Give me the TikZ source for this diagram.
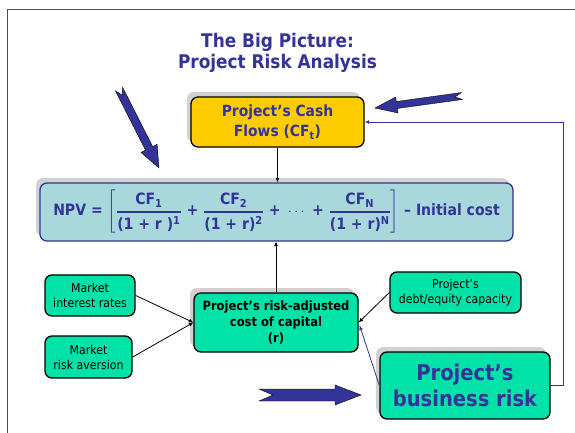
\documentclass[tikz,border=0pt]{standalone}
\usepackage{amsmath}
\usepackage{fontspec}
\setmainfont{DejaVu Sans Condensed}
\usetikzlibrary{calc,arrows.meta,shadows}

\definecolor{slideblue}{RGB}{51,51,153}
\definecolor{cashyellow}{HTML}{FFCC00}
\definecolor{riskgreen}{RGB}{0,226,168}
\definecolor{npvblue}{HTML}{A9D8DC}

\tikzset{
  slidebox/.style={draw, line width=1.3pt, rounded corners=7pt, align=center, inner sep=2pt},
  boxshadow/.style={drop shadow={shadow xshift=-4pt, shadow yshift=5pt, fill=black!30, opacity=.6}},
  link/.style={line width=0.8pt, -{Latex[length=4.5pt,width=4pt]}},
  bluelink/.style={link, slideblue},
  bigarrow/.style={fill=slideblue, draw=black, line width=0.4pt},
}

% block arrow: tail, tip, shaft half width, head half width, head length, notch
\newcommand\blockarrow[6]{%
  \path #1 coordinate (bat) #2 coordinate (bah);
  \path ($(bah)!#5!(bat)$) coordinate (bab);
  \draw[bigarrow] ($(bat)!#3!90:(bah)$) -- ($(bab)!#3!-90:(bat)$) -- ($(bab)!#4!-90:(bat)$)
    -- (bah) -- ($(bab)!#4!90:(bat)$) -- ($(bab)!#3!90:(bat)$) -- ($(bat)!#3!-90:(bah)$)
    -- ($(bat)!#6!(bah)$) -- cycle;
}

\begin{document}
\begin{tikzpicture}[x=1pt,y=-1pt]
  \useasboundingbox (0,0) rectangle (575,433);
  \draw[black!70, line width=0.8pt] (7,433) -- (7,9) -- (575,9);

  \node[slideblue, align=center, font=\bfseries\fontsize{18.8}{21}\selectfont] (title) at (277.5,52.5)
    {The Big Picture:\\Project Risk Analysis};

  \node[slidebox, boxshadow, fill=cashyellow, text=slideblue, minimum width=173pt, minimum height=50pt,
    font=\bfseries\fontsize{15.4}{20}\selectfont] (cash) at (277.5,122)
    {Project’s Cash\\Flows (CF\textsubscript{t})};

  \node[slidebox, boxshadow, draw=slideblue, fill=npvblue, text=slideblue, minimum width=473pt, minimum height=58pt,
    font=\bfseries\fontsize{15.6}{18}\selectfont] (npv) at (276.5,212)
    {NPV = $\left[\genfrac{}{}{1.2pt}{0}{\mbox{CF\textsubscript{1}}}{\mbox{(1 + r )\textsuperscript{1}}}\mbox{ + }
      \genfrac{}{}{1.2pt}{0}{\mbox{CF\textsubscript{2}}}{\mbox{(1 + r)\textsuperscript{2}}}\mbox{ + }\cdots\mbox{ + }
      \genfrac{}{}{1.2pt}{0}{\mbox{CF\textsubscript{N}}}{\mbox{(1 + r)\textsuperscript{N}}}\right]$ – Initial cost};

  \node[slidebox, boxshadow, fill=riskgreen, minimum width=164pt, minimum height=59pt,
    font=\bfseries\fontsize{12.8}{16}\selectfont] (cost) at (276,322.5)
    {Project’s risk-adjusted\\cost of capital\\(r)};

  \node[slidebox, fill=riskgreen, minimum width=90pt, minimum height=41pt,
    font=\fontsize{12.2}{15}\selectfont] (rates) at (90,295.5) {Market\\interest rates};
  \node[slidebox, fill=riskgreen, minimum width=87pt, minimum height=42pt,
    font=\fontsize{12.2}{15}\selectfont] (aversion) at (88.5,357) {Market\\risk aversion};
  \node[slidebox, fill=riskgreen, minimum width=131pt, minimum height=41pt,
    font=\fontsize{12.2}{15}\selectfont] (debt) at (455.5,292.5) {Project’s\\debt/equity capacity};

  \node[slidebox, boxshadow, fill=riskgreen, text=slideblue, minimum width=170pt, minimum height=67pt,
    font=\bfseries\fontsize{21.7}{26}\selectfont] (business) at (465,385.5) {Project’s\\business risk};

  \draw[link] (cash.south) -- (cash.south |- npv.north);
  \draw[link] (cost.north) -- (cost.north |- npv.south);
  \draw[link] (rates.east) -- (cost.west);
  \draw[link] (aversion.east) -- (cost.west);
  \draw[link] (debt.west) -- (cost.east);
  \draw[bluelink] (business.west) -- ($(cost.east)+(1,3)$);
  \draw[bluelink] (business.east) -- ++(13,0) |- (cash.east);

  \blockarrow{(119,89)}{(159,168)}{4pt}{9pt}{22pt}{7pt}
  \blockarrow{(462,96)}{(375,108)}{3.5pt}{8pt}{22pt}{7pt}
  \blockarrow{(259,395)}{(361,395)}{6pt}{10pt}{26pt}{14pt}
\end{tikzpicture}
\end{document}
